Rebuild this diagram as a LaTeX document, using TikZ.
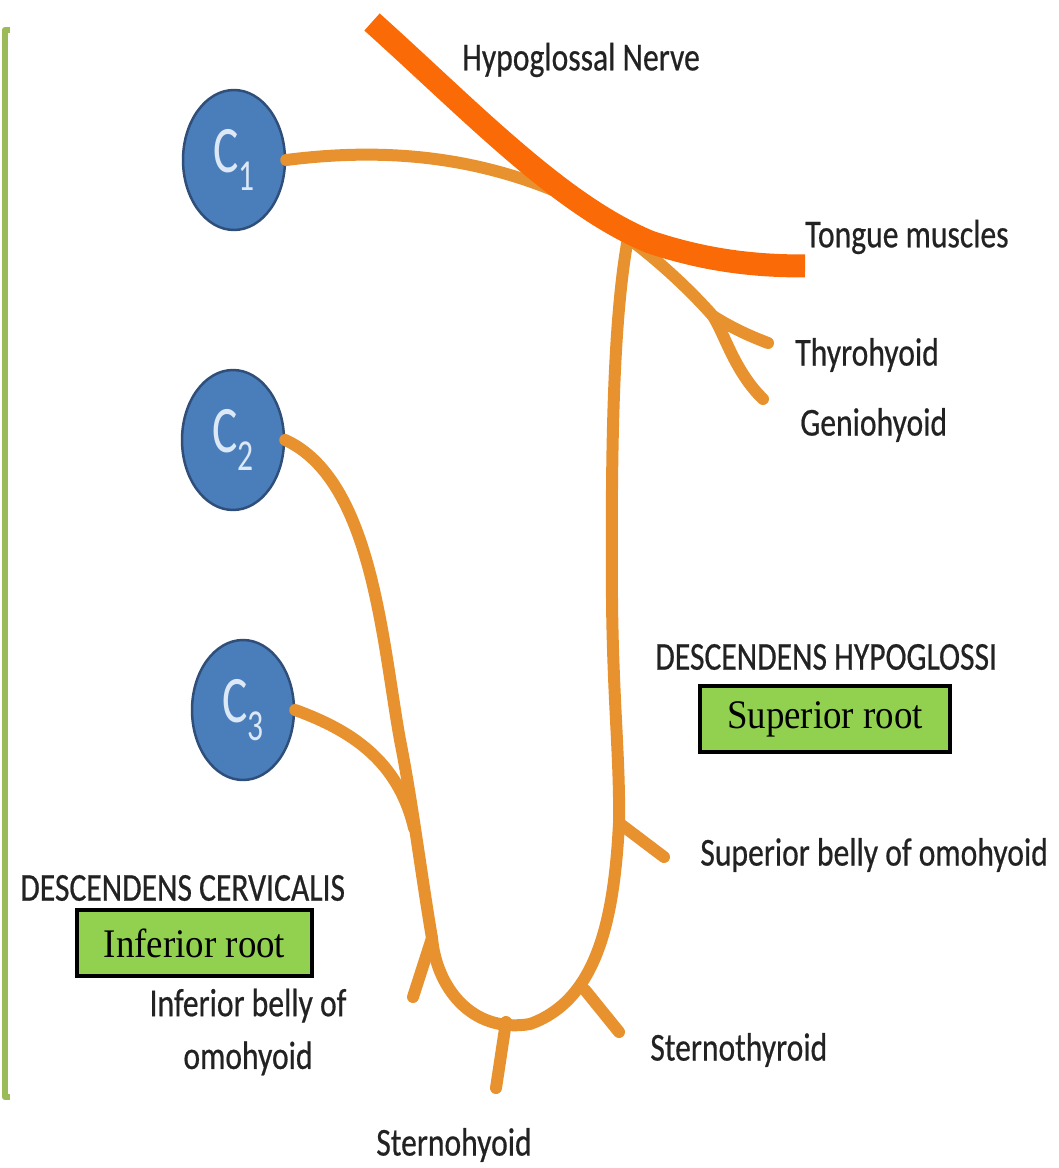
\documentclass[tikz,border=0pt]{standalone}
\usepackage{fontspec}
\setmainfont{Carlito}
\newfontfamily\lblfont{Carlito}[FakeBold=0.6]
\newfontfamily\timesf{Liberation Serif}
\usetikzlibrary{shapes.geometric}
\definecolor{lightnerve}{HTML}{E8922F}
\definecolor{darknerve}{HTML}{FA6B08}
\definecolor{cfill}{HTML}{4A7EBB}
\definecolor{cborder}{HTML}{2F4F7A}
\definecolor{ctext}{HTML}{DCE8F5}
\definecolor{boxgreen}{HTML}{92D050}
\definecolor{framegreen}{HTML}{9BBB59}
\definecolor{lbltext}{HTML}{222222}
\tikzset{
  nerve/.style={draw=lightnerve, line width=0.24cm, line cap=round, line join=round},
  mainnerve/.style={draw=darknerve, line width=0.46cm, line cap=butt},
  cnode/.style={ellipse, draw=cborder, line width=0.05cm, fill=cfill, minimum width=2.04cm, minimum height=2.8cm, inner sep=0, text=ctext},
  lbl/.style={font=\lblfont\fontsize{18}{24}\selectfont, text=lbltext, inner sep=0},
  rootbox/.style={draw=black, line width=0.09cm, fill=boxgreen, inner sep=0, font=\timesf\fontsize{21}{24}\selectfont}
}
\newcommand{\cl}[1]{\scalebox{1}[1.4]{\fontsize{27}{27}\selectfont C\raisebox{-7pt}{\fontsize{18}{18}\selectfont #1}}}
\newcommand{\lb}[1]{\scalebox{1}[1.25]{#1}}
\begin{document}
\begin{tikzpicture}[x=0.02cm,y=-0.02cm]
\useasboundingbox (0,0) rectangle (1058,1168);
% frame
\draw[framegreen, line width=0.12cm, line join=round] (10,30) -- (5,30) -- (5,1097) -- (10,1097);
% roots
\node[cnode] (c1) at (234,160) {\cl{1}};
\node[cnode] (c2) at (233,440) {\cl{2}};
\node[cnode] (c3) at (243,710) {\cl{3}};
% junctions
\coordinate (hgtop) at (372,22);
\coordinate (hgend) at (805,266);
\coordinate (merge) at (628,238);
\coordinate (split) at (713,316);
\coordinate (thy) at (768,343);
\coordinate (gen) at (763,399);
\coordinate (supom) at (664,857);
\coordinate (supomj) at (619,823);
\coordinate (stthj) at (585,990);
\coordinate (stth) at (619,1032);
\coordinate (sthj) at (506,1022);
\coordinate (sth) at (496,1088);
\coordinate (infj) at (432,938);
\coordinate (inf) at (413,997);
\coordinate (c3j) at (414,828);
% C1 branch and hypoglossal branches
\draw[nerve] (c1.east) .. controls (380,148) and (470,155) .. (560,193) .. controls (590,208) and (610,222) .. (merge);
\draw[nerve] (merge) .. controls (660,262) and (690,290) .. (split) .. controls (735,330) and (755,338) .. (thy);
\draw[nerve] (split) .. controls (725,335) and (735,372) .. (gen);
% descendens loop
\draw[nerve] (merge) .. controls (613,320) and (611,450) .. (612,600) .. controls (613,700) and (620,760) .. (supomj) .. controls (614,920) and (597,1000) .. (530,1024) .. controls (470,1034) and (436,985) .. (infj) .. controls (422,880) and (412,800) .. (400,740) .. controls (382,640) and (372,480) .. (c2.east);
\draw[nerve] (c3.east) .. controls (350,730) and (398,760) .. (c3j);
\draw[nerve] (supomj) -- (supom);
\draw[nerve] (stthj) -- (stth);
\draw[nerve] (sthj) -- (sth);
\draw[nerve] (infj) -- (inf);
% hypoglossal nerve
\draw[mainnerve] (hgtop) .. controls (470,110) and (560,205) .. (650,242) .. controls (710,262) and (760,266) .. (hgend);
% labels
\node[lbl] (lhyp) at (581,60) {\lb{Hypoglossal Nerve}};
\node[lbl, anchor=west] (ltong) at (805,237) {\lb{Tongue muscles}};
\node[lbl, anchor=west] (lthy) at (795,355) {\lb{Thyrohyoid}};
\node[lbl, anchor=west] (lgen) at (800,425) {\lb{Geniohyoid}};
\node[lbl, anchor=west] (ldh) at (655,657) {\lb{DESCENDENS HYPOGLOSSI}};
\node[lbl, anchor=west] (lsbo) at (700,855) {\lb{Superior belly of omohyoid}};
\node[lbl, anchor=west] (lstth) at (650,1050) {\lb{Sternothyroid}};
\node[lbl] (lsth) at (454,1145) {\lb{Sternohyoid}};
\node[lbl] (libo) at (248,1032) {\lb{\begin{tabular}{@{}c@{}}Inferior belly of\\omohyoid\end{tabular}}};
\node[lbl, anchor=west] (ldc) at (20,888) {\lb{DESCENDENS CERVICALIS}};
\node[rootbox, minimum width=5cm, minimum height=1.32cm] (sup) at (825,719) {\scalebox{1}[1.1]{Superior root}\hspace{0.8em}};
\node[rootbox, minimum width=4.7cm, minimum height=1.32cm] (inf) at (194.5,943) {\scalebox{1}[1.1]{Inferior root}\hspace{0.8em}};
\end{tikzpicture}
\end{document}
